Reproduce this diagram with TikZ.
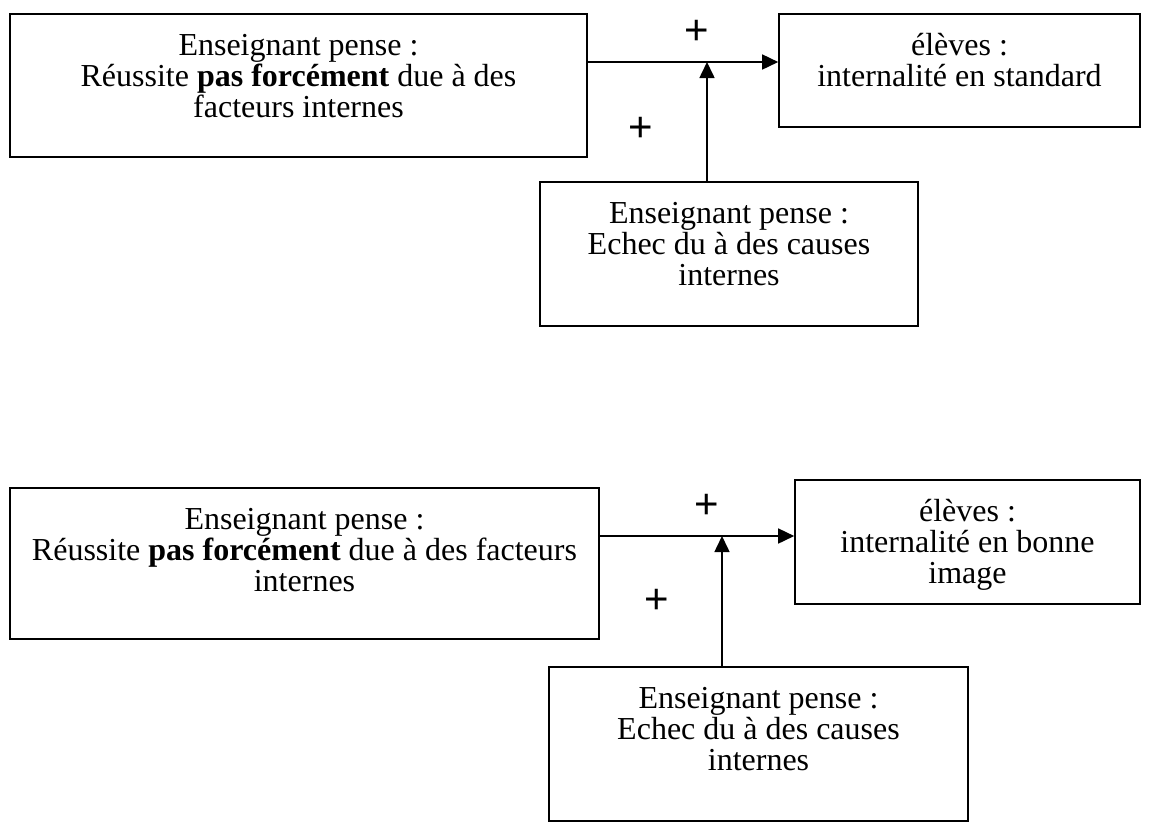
\documentclass[tikz,border=0pt]{standalone}
\usepackage{fontspec}
\setmainfont{Liberation Serif}
\newfontfamily\plusfont{Liberation Sans}
\usetikzlibrary{arrows.meta,calc}
\tikzset{
  box/.style={draw, line width=1.6pt, inner sep=0pt, rectangle},
  txt/.style={align=center, inner sep=0pt, anchor=north, font=\fontsize{32}{31}\selectfont},
  pl/.style={inner sep=0pt, font=\plusfont\fontsize{42}{42}\selectfont},
  arr/.style={line width=1.6pt, -{Triangle[length=16pt,width=15pt]}},
}
\begin{document}
\begin{tikzpicture}[x=1pt,y=-1pt]
\useasboundingbox (0,0) rectangle (1154,823);
% ---------- top diagram ----------
\node[box, minimum width=577pt, minimum height=143pt] (A) at (298.5,85.5) {};
\node[box, minimum width=361pt, minimum height=113pt] (B) at (959.5,70.5) {};
\node[box, minimum width=378pt, minimum height=144pt] (C) at (729,254) {};
\node[txt] (tA) at ([yshift=-18pt]A.north) {\rule{0pt}{24pt}Enseignant pense :\\Réussite \textbf{pas forcément} due à des\\facteurs internes};
\node[txt] (tB) at ([yshift=-18pt]B.north) {\rule{0pt}{24pt}élèves :\\internalité en standard};
\node[txt] (tC) at ([yshift=-18pt]C.north) {\rule{0pt}{24pt}Enseignant pense :\\Echec du à des causes\\internes};
\coordinate (jA) at (707,62);
\draw[arr] (A.east |- jA) -- (B.west |- jA);
\draw[arr] (jA |- C.north) -- (jA);
\node[pl] (p1) at (697,32) {+};
\node[pl] (p2) at (641,129) {+};
% ---------- bottom diagram ----------
\node[box, minimum width=589pt, minimum height=151pt] (A2) at (304.5,563.5) {};
\node[box, minimum width=345pt, minimum height=124pt] (B2) at (967.5,542) {};
\node[box, minimum width=419pt, minimum height=154pt] (C2) at (758.5,744) {};
\node[txt] (tA2) at ([yshift=-18pt]A2.north) {\rule{0pt}{24pt}Enseignant pense :\\Réussite \textbf{pas forcément} due à des facteurs\\internes};
\node[txt] (tB2) at ([yshift=-18pt]B2.north) {\rule{0pt}{24pt}élèves :\\internalité en bonne\\image};
\node[txt] (tC2) at ([yshift=-18pt]C2.north) {\rule{0pt}{24pt}Enseignant pense :\\Echec du à des causes\\internes};
\coordinate (jB) at (722,536);
\draw[arr] (A2.east |- jB) -- (B2.west |- jB);
\draw[arr] (jB |- C2.north) -- (jB);
\node[pl] (p3) at (707,506) {+};
\node[pl] (p4) at (657,601) {+};
\end{tikzpicture}
\end{document}
